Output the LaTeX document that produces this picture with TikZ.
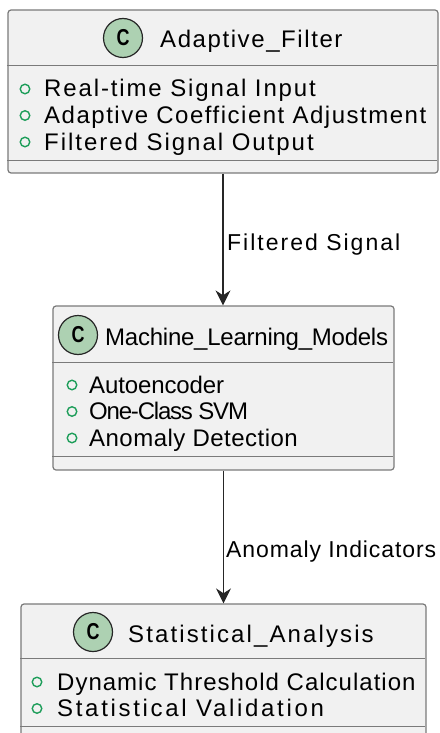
\documentclass[tikz,border=0pt]{standalone}
\usepackage{fontspec}
\setmainfont{Liberation Sans}
\usetikzlibrary{arrows.meta,positioning}
\definecolor{boxfill}{HTML}{F1F1F1}
\definecolor{boxline}{HTML}{7A7A7A}
\definecolor{badgefill}{HTML}{ADD1B2}
\definecolor{dotgreen}{HTML}{1E9E5A}
\newcommand{\badgeC}{\scalebox{0.78}[1]{C}}

\begin{document}
\begin{tikzpicture}[x=1pt,y=-1pt,>={Stealth[length=15pt,width=15pt]},
    classbox/.style={draw=boxline,fill=boxfill,rounded corners=3pt,line width=1.2pt,inner sep=0pt},
    sep/.style={draw=boxline,line width=1.2pt},
    badge/.style={circle,draw=black!85,fill=badgefill,line width=1.2pt,minimum size=39pt,inner sep=0pt,
      font=\fontsize{23}{23}\selectfont\bfseries},
    attr/.style={anchor=base west,inner sep=0pt,
      font=\fontsize{24}{28}\selectfont\addfontfeature{LetterSpace=#1}},
    dot/.style={circle,draw=dotgreen,line width=1.4pt,minimum size=9.5pt,inner sep=0pt},
    flow/.style={->,line width=1.2pt,draw=black!85},
    flowlabel/.style={anchor=base west,inner sep=0pt,
      font=\fontsize{23}{26}\selectfont\addfontfeature{LetterSpace=#1}}]
  \useasboundingbox (0,0) rectangle (439,733);

  % Adaptive_Filter
  \node[classbox,minimum width=430pt,minimum height=163pt] (filter) at (223,91.5) {};
  \draw[sep] (filter.north west) ++(0,56) -- ++(430,0);
  \draw[sep] (filter.south west) ++(0,-13) -- ++(430,0);
  \node[badge] (filterC) at (123,38) {\badgeC};
  \node[attr=6.6] (filterT) at (160,48) {Adaptive\_Filter};
  \foreach \txt/\ls [count=\i] in {Real-time Signal Input/7.8,Adaptive Coefficient Adjustment/6.3,Filtered Signal Output/8.2}{
    \node[attr=\ls] (fa\i) at (44,{97+26.5*(\i-1)}) {\txt};
    \node[dot] (fd\i) at (25,{89+26.5*(\i-1)}) {};
  }

  % Machine_Learning_Models
  \node[classbox,minimum width=341pt,minimum height=164pt] (ml) at (223.5,388) {};
  \draw[sep] (ml.north west) ++(0,57) -- ++(341,0);
  \draw[sep] (ml.south west) ++(0,-14) -- ++(341,0);
  \node[badge] (mlC) at (78,335) {\badgeC};
  \node[attr=-1] (mlT) at (105,345) {Machine\_Learning\_Models};
  \foreach \txt/\ls [count=\i] in {Autoencoder/-0.5,One-Class SVM/-5,Anomaly Detection/2}{
    \node[attr=\ls] (ma\i) at (89,{393+26.5*(\i-1)}) {\txt};
    \node[dot] (md\i) at (72,{385+26.5*(\i-1)}) {};
  }

  % Statistical_Analysis
  \node[classbox,minimum width=405pt,minimum height=137pt] (stat) at (223.5,672.5) {};
  \draw[sep] (stat.north west) ++(0,55) -- ++(405,0);
  \draw[sep] (stat.north west) ++(0,123) -- ++(405,0);
  \node[badge] (statC) at (93,632) {\badgeC};
  \node[attr=8.8] (statT) at (128,642) {Statistical\_Analysis};
  \foreach \txt/\ls [count=\i] in {Dynamic Threshold Calculation/4.2,Statistical Validation/11.2}{
    \node[attr=\ls] (sa\i) at (57,{690+26.5*(\i-1)}) {\txt};
    \node[dot] (sd\i) at (37,{682+26.5*(\i-1)}) {};
  }

  % connectors
  \draw[flow] (filter.south) -- (filter.south |- ml.north);
  \node[flowlabel=8.7] (sigL) at (227,250) {Filtered Signal};
  \draw[flow] (ml.south) -- (ml.south |- stat.north);
  \node[flowlabel=3.9] (anoL) at (226,557) {Anomaly Indicators};
\end{tikzpicture}
\end{document}
